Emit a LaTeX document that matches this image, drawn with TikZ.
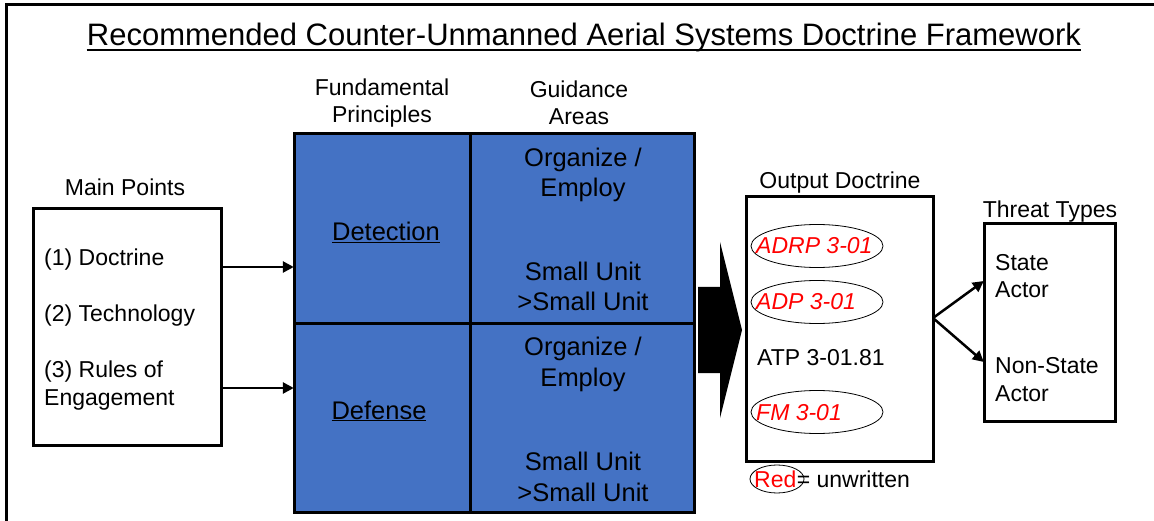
\documentclass[tikz,border=0pt]{standalone}
\usepackage{fontspec}
\setmainfont{Liberation Sans}
\usetikzlibrary{arrows.meta,positioning}
\definecolor{cellblue}{HTML}{4472C4}
\definecolor{docred}{HTML}{FF0000}

\tikzset{
  box/.style={draw,line width=3pt},
  txt/.style={font=\fontsize{23}{27.5}\selectfont,inner sep=0pt,anchor=base},
  cell/.style={font=\fontsize{25.5}{30.5}\selectfont,inner sep=0pt,align=center,anchor=base},
  redtxt/.style={txt,text=docred,font=\fontsize{23}{27.5}\selectfont\itshape},
  unwr/.style={line width=0.8pt},
  link/.style={line width=2.5pt,-{Triangle[length=11pt,width=11pt]}}
}

\begin{document}
\begin{tikzpicture}[x=1pt,y=-1pt]
  \useasboundingbox (0,0) rectangle (1154,521);
  % frame and title
  \draw[line width=3pt] (6,521) -- (6,5) -- (1154,5);
  \node[font=\fontsize{31}{37}\selectfont,inner sep=0pt,anchor=base] (title) at (584,46)
    {Recommended Counter-Unmanned Aerial Systems Doctrine Framework};
  \draw[line width=2pt] ([yshift=-4pt]title.base west) -- ([yshift=-4pt]title.base east);

  % main points
  \node[txt] (mainlbl) at (125,196) {Main Points};
  \draw[box] (33,209) rectangle (221,445);
  \node (main) at (127,327) [minimum width=188pt,minimum height=236pt] {};
  \node[txt,anchor=base west] (pt1) at (44,266) {(1) Doctrine};
  \node[txt,anchor=base west] (pt2) at (44,322) {(2) Technology};
  \node[txt,anchor=base west,align=left] (pt3) at (44,405) {(3) Rules of\\Engagement};

  % principles / guidance grid
  \node[txt,align=center] (fundlbl) at (382,123) {Fundamental\\Principles};
  \node[txt,align=center] (guidlbl) at (579,125) {Guidance\\Areas};
  \draw[box,fill=cellblue] (294,134) rectangle (694,512);
  \draw[box] (470,134) -- (470,512);
  \draw[box] (294,324) -- (694,324);
  \node (grid) at (494,323) [minimum width=400pt,minimum height=378pt] {};
  \node[cell] (det) at (386,241) {\underline{Detection}};
  \node[cell] (def) at (379,419) {\underline{Defense}};
  \node[cell] (org1) at (583,197) {Organize /\\Employ};
  \node[cell] (unit1) at (583,311) {Small Unit\\>Small Unit};
  \node[cell] (org2) at (583,386) {Organize /\\Employ};
  \node[cell] (unit2) at (583,501) {Small Unit\\>Small Unit};

  \coordinate (r1) at (0,267);
  \coordinate (r2) at (0,388);
  \draw[link] (main.east |- r1) -- (grid.west |- r1);
  \draw[link] (main.east |- r2) -- (grid.west |- r2);

  % big output arrow
  \fill (698,287) -- (720,287) -- (720,242) -- (742,330) -- (720,418) -- (720,373) -- (698,373) -- cycle;

  % output doctrine
  \node[txt] (outlbl) at (840,189) {Output Doctrine};
  \draw[box] (746,197) rectangle (933,461);
  \node (out) at (839.5,329) [minimum width=187pt,minimum height=264pt] {};
  \draw[unwr] (817,246) ellipse [x radius=66,y radius=21.5];
  \draw[unwr] (817,302) ellipse [x radius=66,y radius=21.5];
  \draw[unwr] (817,412) ellipse [x radius=66,y radius=21.5];
  \node[redtxt,anchor=base west] (adrp) at (756,254) {ADRP 3-01};
  \node[redtxt,anchor=base west] (adp) at (756,310) {ADP 3-01};
  \node[txt,anchor=base west] (atp) at (757,365) {ATP 3-01.81};
  \node[redtxt,anchor=base west] (fm) at (756,420) {FM 3-01};
  \draw[unwr] (777,479) ellipse [x radius=27,y radius=14];
  \node[txt,text=docred,anchor=base west] (red) at (754,487) {Red};
  \node[txt,anchor=base west] (unwritten) at (red.base east) {= unwritten};

  % threat types
  \node[txt] (thrlbl) at (1050,218) {Threat Types};
  \draw[box] (984,224) rectangle (1115,421);
  \node (threat) at (1049.5,322.5) [minimum width=131pt,minimum height=197pt] {};
  \node[txt,anchor=base west,align=left] (state) at (995,298) {State\\Actor};
  \node[txt,anchor=base west,align=left] (nonstate) at (995,401) {Non-State\\Actor};
  \coordinate (fork) at (933,318);
  \coordinate (s1) at (0,281);
  \coordinate (s2) at (0,362);
  \draw[link] (fork) -- (threat.west |- s1);
  \draw[link] (fork) -- (threat.west |- s2);
\end{tikzpicture}
\end{document}
